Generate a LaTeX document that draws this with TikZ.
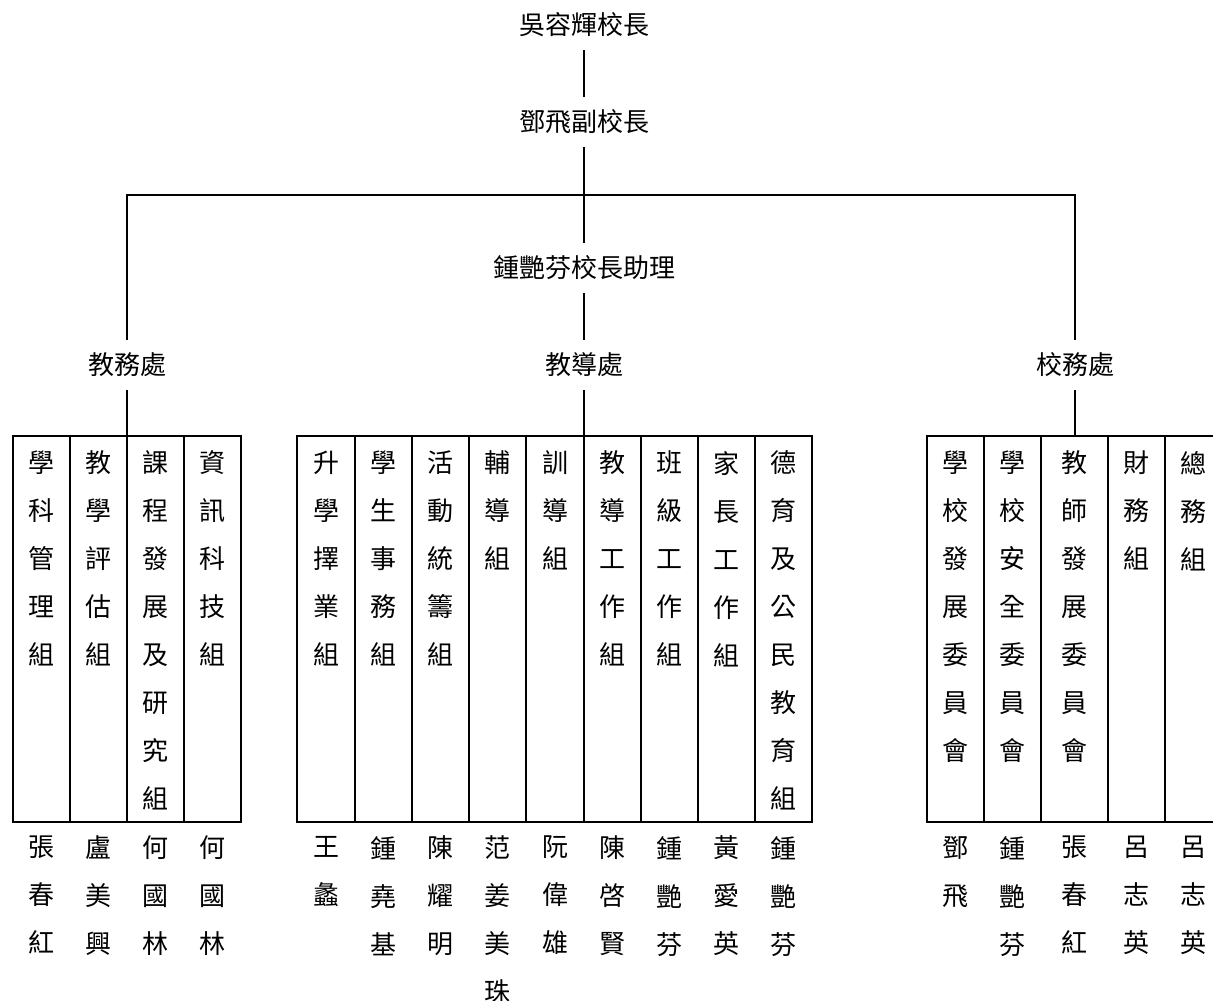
\documentclass[tikz,border=0pt]{standalone}
\usepackage{fontspec}
\newfontfamily\cjk{Noto Sans CJK TC}
\begin{document}
\begin{tikzpicture}[x=1pt,y=-1pt,line width=2pt,
  font=\cjk\fontsize{26}{48}\selectfont,
  title/.style={minimum height=48,inner sep=0pt},
  col/.style={draw,anchor=north west,minimum height=386,inner sep=0pt,outer sep=0pt},
  word/.style={anchor=north,align=center,inner sep=0pt}]
\useasboundingbox (0,0) rectangle (1213,1001);
% heads
\node[title] (head) at (584,25) {吳容輝校長};
\node[title] (deputy) at (584,122) {鄧飛副校長};
\node[title] (assist) at (584,268) {鍾艷芬校長助理};
\node[title] (jiaowu) at (127,365) {教務處};
\node[title] (jiaodao) at (584,365) {教導處};
\node[title] (xiaowu) at (1075,365) {校務處};
\coordinate (bar) at (584,195);
% groups
\foreach \n/\x/\w/\t/\p in {
  a1/13/57/{學\\科\\管\\理\\組}/{張\\春\\紅},
  a2/70/57/{教\\學\\評\\估\\組}/{盧\\美\\興},
  a3/127/57/{課\\程\\發\\展\\及\\研\\究\\組}/{何\\國\\林},
  a4/184/57/{資\\訊\\科\\技\\組}/{何\\國\\林},
  b1/297/58/{升\\學\\擇\\業\\組}/{王\\蠡},
  b2/355/57/{學\\生\\事\\務\\組}/{鍾\\堯\\基},
  b3/412/57/{活\\動\\統\\籌\\組}/{陳\\耀\\明},
  b4/469/57/{輔\\導\\組}/{范\\姜\\美\\珠},
  b5/526/58/{訓\\導\\組}/{阮\\偉\\雄},
  b6/584/57/{教\\導\\工\\作\\組}/{陳\\啓\\賢},
  b7/641/57/{班\\級\\工\\作\\組}/{鍾\\艷\\芬},
  b8/698/57/{家\\長\\工\\作\\組}/{黃\\愛\\英},
  b9/755/57/{德\\育\\及\\公\\民\\教\\育\\組}/{鍾\\艷\\芬},
  c1/927/57/{學\\校\\發\\展\\委\\員\\會}/{鄧\\飛},
  c2/984/57/{學\\校\\安\\全\\委\\員\\會}/{鍾\\艷\\芬},
  c3/1041/67/{教\\師\\發\\展\\委\\員\\會}/{張\\春\\紅},
  c4/1108/57/{財\\務\\組}/{呂\\志\\英},
  c5/1165/57/{總\\務\\組}/{呂\\志\\英}}
{
  \node[col,minimum width=\w] (\n) at (\x,436) {};
  \node[word] (\n t) at ([yshift=-14pt]\n.north) {\t};
  \node[word] (\n p) at ([yshift=-13pt]\n.south) {\p};
}
% lines
\draw (head) -- (deputy);
\draw (deputy) -- (assist);
\draw (assist) -- (jiaodao);
\draw (jiaowu.north) |- (bar) -| (xiaowu.north);
\draw (jiaowu) -- (a2.north east);
\draw (jiaodao) -- (b5.north east);
\draw (xiaowu) -- (xiaowu |- c3.north);
\end{tikzpicture}
\end{document}
